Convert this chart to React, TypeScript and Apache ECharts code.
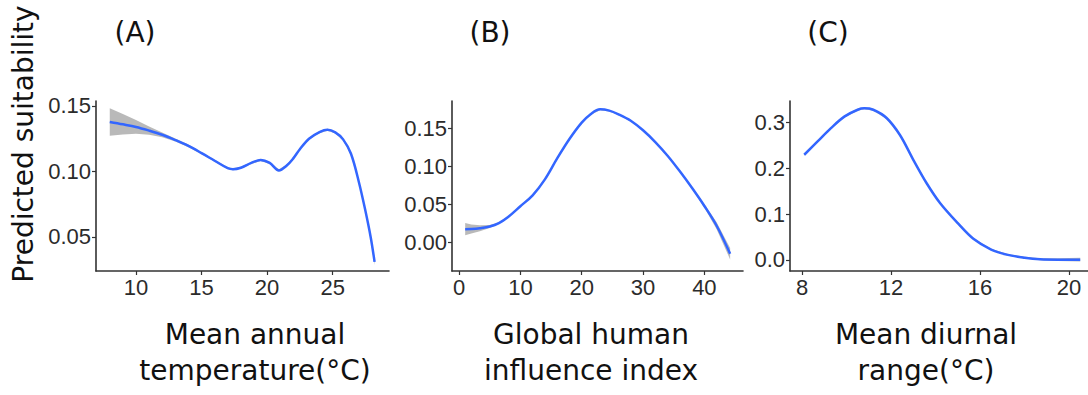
import React, { useEffect, useRef } from "react";
import * as echarts from "echarts";

// Panel A: Mean annual temperature
const tempX = [8, 9, 10, 11, 12, 13, 14, 15, 16, 17, 17.4, 18, 18.8, 19.5, 20.2, 20.9, 21.5, 22, 22.5, 23.2, 24, 24.6, 25.2, 25.8, 26.4, 27, 27.5, 27.9, 28.2];
const tempY = [0.1378, 0.136, 0.134, 0.1312, 0.128, 0.124, 0.1195, 0.114, 0.1082, 0.1025, 0.1017, 0.1028, 0.1065, 0.1088, 0.1065, 0.1008, 0.1045, 0.11, 0.117, 0.125, 0.13, 0.1318, 0.1298, 0.1245, 0.1135, 0.092, 0.07, 0.05, 0.031];
const tempSE = [0.0105, 0.0078, 0.0052, 0.0032, 0.0018, 0.0012, 0.001, 0.0008, 0.0008, 0.0008, 0.0008, 0.0008, 0.0008, 0.0008, 0.0008, 0.0008, 0.0008, 0.0008, 0.0008, 0.0008, 0.0008, 0.0008, 0.0008, 0.001, 0.001, 0.0012, 0.0015, 0.002, 0.0025];
const tempTicks = [10, 15, 20, 25];
const tempYTicks = [0.05, 0.1, 0.15];

// Panel B: Global human influence index
const hiiX = [1, 2, 3.4, 5, 6.5, 8, 10, 12, 14, 16, 18, 20, 21.5, 23, 24.5, 26, 28, 30, 32, 34, 36, 38, 40, 42, 44.2];
const hiiY = [0.017, 0.0172, 0.0183, 0.0205, 0.025, 0.033, 0.0472, 0.0615, 0.0825, 0.11, 0.1355, 0.157, 0.1685, 0.1745, 0.1728, 0.168, 0.1595, 0.147, 0.1315, 0.1135, 0.093, 0.071, 0.0475, 0.0215, -0.0153];
const hiiSE = [0.008, 0.006, 0.004, 0.002, 0.0012, 0.001, 0.001, 0.001, 0.001, 0.001, 0.001, 0.001, 0.001, 0.001, 0.001, 0.001, 0.001, 0.001, 0.001, 0.001, 0.0012, 0.0015, 0.0025, 0.0045, 0.0075];
const hiiTicks = [0, 10, 20, 30, 40];
const hiiYTicks = [0, 0.05, 0.1, 0.15];

// Panel C: Mean diurnal range
const mdrX = [8.1, 8.7, 9.3, 9.9, 10.5, 10.8, 11.2, 11.8, 12.4, 13.0, 13.6, 14.2, 15.0, 15.7, 16.5, 17.2, 18.0, 18.7, 19.5, 20.5];
const mdrY = [0.229, 0.258, 0.287, 0.312, 0.327, 0.33, 0.327, 0.309, 0.272, 0.218, 0.167, 0.124, 0.08, 0.046, 0.0225, 0.0116, 0.005, 0.0015, 0.0007, 0.0007];
const mdrSE = [0.002, 0.002, 0.002, 0.002, 0.002, 0.002, 0.002, 0.002, 0.002, 0.002, 0.002, 0.002, 0.002, 0.002, 0.002, 0.002, 0.002, 0.002, 0.003, 0.004];
const mdrTicks = [8, 12, 16, 20];
const mdrYTicks = [0, 0.1, 0.2, 0.3];

const panelTitles = ["(A)", "(B)", "(C)"];
const xNames = [
  ["Mean annual", "temperature(°C)"],
  ["Global human", "influence index"],
  ["Mean diurnal", "range(°C)"],
];
const yName = "Predicted suitability";

const TICK_FONT = "'Liberation Sans', Arial, sans-serif";
const TEXT_FONT = "'DejaVu Sans', sans-serif";
const AXIS_COLOR = "#333333";

export default function App() {
  const ref = useRef<HTMLDivElement>(null);
  useEffect(() => {
    if (!ref.current) return;
    const chart = echarts.init(ref.current, null, { renderer: "svg" });

    const panels = [
      { x: tempX, y: tempY, se: tempSE, xt: tempTicks, yt: tempYTicks, xmin: 6.95, xmax: 29.3, ymin: 0.024, ymax: 0.1538, dec: 2, grid: { left: 96, width: 293 } },
      { x: hiiX, y: hiiY, se: hiiSE, xt: hiiTicks, yt: hiiYTicks, xmin: -1.15, xmax: 46.3, ymin: -0.038, ymax: 0.1855, dec: 2, grid: { left: 452, width: 291 } },
      { x: mdrX, y: mdrY, se: mdrSE, xt: mdrTicks, yt: mdrYTicks, xmin: 7.46, xmax: 20.85, ymin: -0.024, ymax: 0.346, dec: 1, grid: { left: 790, width: 298 } },
    ];

    const grid = panels.map((p) => ({ left: p.grid.left, width: p.grid.width, top: 101, height: 170, containLabel: false }));
    const axisLine = { show: true, onZero: false, lineStyle: { color: AXIS_COLOR, width: 1.6 } };
    const xAxis = panels.map((p, i) => ({
      type: "value",
      gridIndex: i,
      min: p.xmin,
      max: p.xmax,
      axisLine,
      splitLine: { show: false },
      axisTick: { show: true, length: 4, customValues: p.xt, lineStyle: { color: AXIS_COLOR, width: 1.2 } },
      axisLabel: { customValues: p.xt, fontSize: 22, color: "#2b2b2b", fontFamily: TICK_FONT, margin: 5, formatter: (v: number) => String(v) },
    }));
    const yAxis = panels.map((p, i) => ({
      type: "value",
      gridIndex: i,
      min: p.ymin,
      max: p.ymax,
      axisLine,
      splitLine: { show: false },
      axisTick: { show: true, length: 4, customValues: p.yt, lineStyle: { color: AXIS_COLOR, width: 1.2 } },
      axisLabel: { customValues: p.yt, fontSize: 22, color: "#2b2b2b", fontFamily: TICK_FONT, margin: 5, formatter: (v: number) => v.toFixed(p.dec) },
    }));

    const series: any[] = [];
    panels.forEach((p, i) => {
      const fit = p.x.map((x, k) => [x, p.y[k]]);
      series.push({
        type: "custom",
        xAxisIndex: i,
        yAxisIndex: i,
        data: [[p.x[0], p.y[0]]],
        silent: true,
        z: 1,
        renderItem: (params: any, api: any) => {
          const upper = p.x.map((x, k) => api.coord([x, p.y[k] + p.se[k]]));
          const lower = p.x.map((x, k) => api.coord([x, p.y[k] - p.se[k]])).reverse();
          return {
            type: "polygon",
            shape: { points: upper.concat(lower), smooth: 0 },
            style: { fill: "rgba(128,128,128,0.55)", stroke: "none" },
          };
        },
      });
      series.push({
        type: "line", xAxisIndex: i, yAxisIndex: i, data: fit, symbol: "none", smooth: 0.35,
        lineStyle: { color: "#3366FF", width: 2.5 }, z: 3,
      });
    });

    const titleX = [135, 490, 828];
    const nameX = [255, 591, 926];
    const graphic: any[] = [];
    panelTitles.forEach((t, i) => {
      graphic.push({ type: "text", x: titleX[i], y: 32, style: { text: t, font: `28px ${TEXT_FONT}`, fill: "#111", textAlign: "center", textVerticalAlign: "middle" } });
      graphic.push({ type: "text", x: nameX[i], y: 334, style: { text: xNames[i][0], font: `28px ${TEXT_FONT}`, fill: "#111", textAlign: "center", textVerticalAlign: "middle" } });
      graphic.push({ type: "text", x: nameX[i], y: 370, style: { text: xNames[i][1], font: `28px ${TEXT_FONT}`, fill: "#111", textAlign: "center", textVerticalAlign: "middle" } });
    });
    graphic.push({
      type: "text", x: 23, y: 144, rotation: Math.PI / 2,
      style: { text: yName, font: `28px ${TEXT_FONT}`, fill: "#111", textAlign: "center", textVerticalAlign: "middle" },
    });

    chart.setOption({
      animation: false,
      backgroundColor: "#ffffff",
      grid,
      xAxis,
      yAxis,
      series,
      graphic,
    });
    return () => chart.dispose();
  }, []);
  return <div ref={ref} style={{ position: "absolute", left: 0, top: 0, width: 1088, height: 395 }} />;
}
